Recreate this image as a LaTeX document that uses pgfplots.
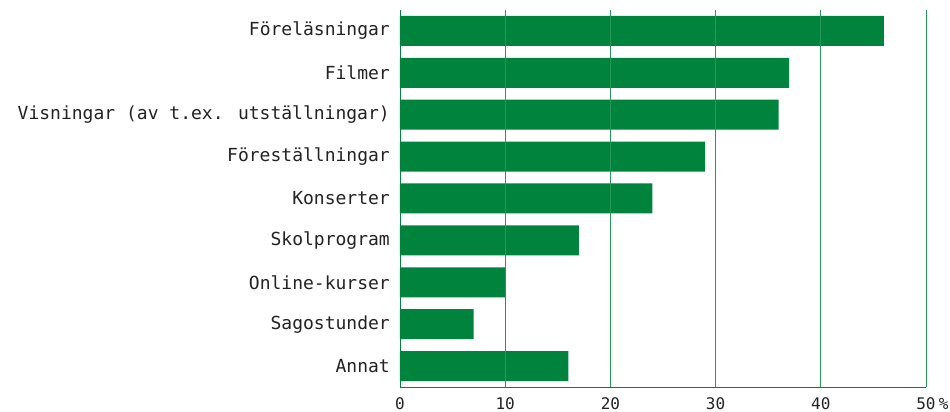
\documentclass[border=0pt]{standalone}
\usepackage{fontspec}
\setmainfont{DejaVu Sans Mono}
\usepackage{pgfplots}
\pgfplotsset{compat=1.18}
\definecolor{bargreen}{RGB}{0,132,61}
\definecolor{gridgreen}{RGB}{40,150,85}
\definecolor{txt}{RGB}{34,34,34}
\begin{document}
\begin{tikzpicture}
\begin{axis}[
  at={(0,0)}, anchor=south west,
  scale only axis, width=526pt, height=377pt,
  xmin=0, xmax=50, ymin=-0.5, ymax=8.5,
  xtick={0,10,20,30,40,50},
  xticklabels={0,10,20,30,40,{50\rlap{\hspace{0.2em}\%}}},
  ytick={0,1,2,3,4,5,6,7,8},
  yticklabels={Annat,Sagostunder,Online-kurser,Skolprogram,Konserter,Föreställningar,Visningar (av t.ex. utställningar),Filmer,Föreläsningar},
  /pgf/number format/assume math mode=true,
  major tick length=0pt,
  xmajorgrids, grid style={gridgreen, line width=0.8pt},
  axis x line*=bottom, axis y line*=left,
  axis line style={bargreen, line width=0.9pt, -},
  axis on top,
  xticklabel style={font=\fontsize{16}{18}\selectfont, text=txt, anchor=north, inner sep=0pt, yshift=-10pt},
  yticklabel style={font=\fontsize{18}{20}\selectfont, text=txt, anchor=east, inner sep=0pt, xshift=-10pt},
  xbar, bar width=30pt,
  clip=false,
]
\addplot[fill=bargreen, draw=none] coordinates {
  (16,0) (7,1) (10,2) (17,3) (24,4) (29,5) (36,6) (37,7) (46,8)
};
\end{axis}
\pgfresetboundingbox
\path[use as bounding box] (-400pt,-25pt) rectangle (550pt,387pt);
\end{tikzpicture}
\end{document}
